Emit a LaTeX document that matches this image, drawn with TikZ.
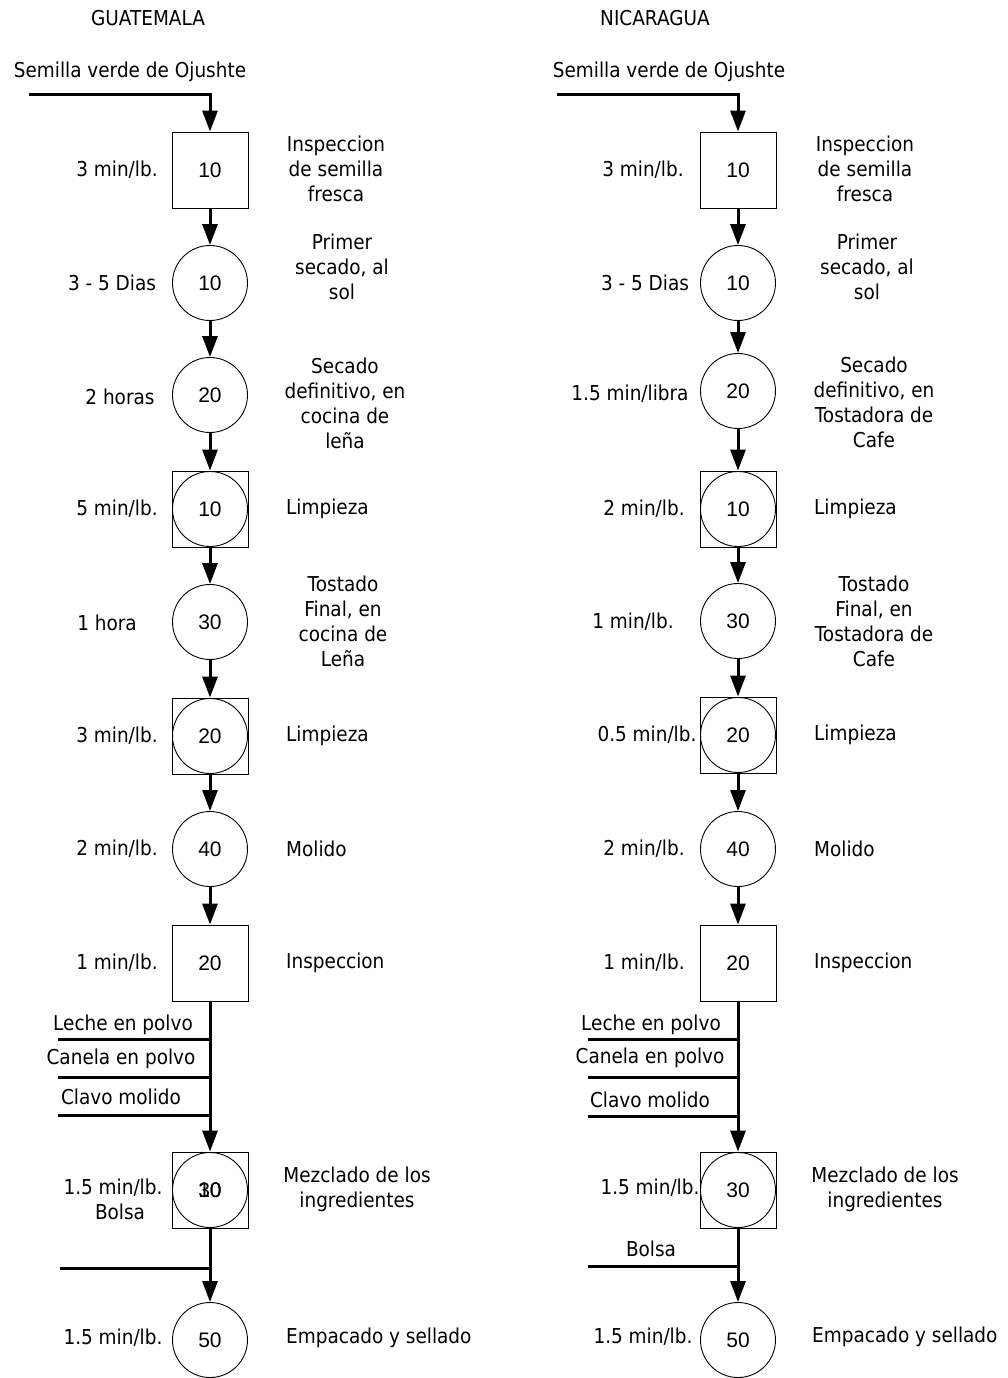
\documentclass[tikz,border=0pt]{standalone}
\usepackage{fontspec}
\setmainfont{DejaVu Sans}[FakeStretch=0.9]
\newfontfamily\numfont{Liberation Sans}
\usetikzlibrary{arrows.meta}
\begin{document}
\begin{tikzpicture}[x=1pt,y=-1pt,
  lbl/.style={font=\fontsize{20.5}{25}\selectfont, align=center, inner sep=0pt},
  lblw/.style={lbl, anchor=west},
  sq/.style={draw, line width=0.9pt, minimum width=76pt, minimum height=76pt, inner sep=0pt, font=\numfont\fontsize{21}{22}\selectfont},
  cir/.style={draw, circle, line width=0.9pt, minimum size=75pt, inner sep=0pt, font=\numfont\fontsize{21}{22}\selectfont},
  num/.style={inner sep=0pt, font=\numfont\fontsize{21}{22}\selectfont},
  flow/.style={line width=3pt, -{Triangle[length=21pt,width=15pt]}},
  feed/.style={line width=3pt},
]
\useasboundingbox (0,0) rectangle (1008,1378);

% ---------------- GUATEMALA ----------------
\node[lbl] (gt) at (148,18) {GUATEMALA};
\node[lbl] (gsem) at (130,72) {Semilla verde de Ojushte};
\coordinate (gin) at (29,95);

\node[sq]  (g1) at (210,170) {10};
\node[cir] (g2) at (210,283) {10};
\node[cir] (g3) at (210,395) {20};
\node[sq]  (g4) at (210,509) {};
\node[cir] (g4c) at (210,509) {10};
\node[cir] (g5) at (210,622) {30};
\node[sq]  (g6) at (210,736) {};
\node[cir] (g6c) at (210,736) {20};
\node[cir] (g7) at (210,849) {40};
\node[sq]  (g8) at (210,963) {20};
\node[sq]  (g9) at (210,1190) {};
\node[cir] (g9c) at (210,1190) {30};
\node[num] (g9x) at (210,1190) {10};
\node[cir] (g10) at (210,1340) {50};

\draw[flow] (gin) -| (g1);
\draw[flow] (g1) -- (g2);
\draw[flow] (g2) -- (g3);
\draw[flow] (g3) -- (g4);
\draw[flow] (g4) -- (g5);
\draw[flow] (g5) -- (g6);
\draw[flow] (g6) -- (g7);
\draw[flow] (g7) -- (g8);
\draw[flow] (g8) -- (g9);
\draw[flow] (g9) -- (g10);

\coordinate (gf1s) at (58,1039);  \coordinate (gf1e) at (210,1039);
\coordinate (gf2s) at (58,1077);  \coordinate (gf2e) at (210,1077);
\coordinate (gf3s) at (58,1115);  \coordinate (gf3e) at (210,1115);
\coordinate (gf4s) at (60,1268);  \coordinate (gf4e) at (210,1268);
\draw[feed] (gf1s) -- (gf1e);
\draw[feed] (gf2s) -- (gf2e);
\draw[feed] (gf3s) -- (gf3e);
\draw[feed] (gf4s) -- (gf4e);
\node[lbl] (gl1) at (123,1025) {Leche en polvo};
\node[lbl] (gl2) at (121,1059) {Canela en polvo};
\node[lbl] (gl3) at (121,1097) {Clavo molido};

% left time labels
\node[lbl] (gt1) at (117,170) {3 min/lb.};
\node[lbl] (gt2) at (112,283) {3 - 5 Dias};
\node[lbl] (gt3) at (120,397) {2 horas};
\node[lbl] (gt4) at (117,509) {5 min/lb.};
\node[lbl] (gt5) at (107,623) {1 hora};
\node[lbl] (gt6) at (117,736) {3 min/lb.};
\node[lbl] (gt7) at (117,849) {2 min/lb.};
\node[lbl] (gt8) at (117,963) {1 min/lb.};
\node[lbl] (gt9) at (113,1188) {1.5 min/lb.};
\node[lbl] (gt9b) at (120,1212) {Bolsa};
\node[lbl] (gt10) at (113,1338) {1.5 min/lb.};

% right descriptions
\node[lbl] (gd1) at (336,169) {Inspeccion\\de semilla\\fresca};
\node[lbl] (gd2) at (342,267) {Primer\\secado, al\\sol};
\node[lbl] (gd3) at (345,403) {Secado\\definitivo, en\\cocina de\\leña};
\node[lblw] (gd4) at (286,509) {Limpieza};
\node[lbl] (gd5) at (343,621) {Tostado\\Final, en\\cocina de\\Leña};
\node[lblw] (gd6) at (286,736) {Limpieza};
\node[lblw] (gd7) at (286,849) {Molido};
\node[lblw] (gd8) at (286,963) {Inspeccion};
\node[lbl] (gd9) at (357,1189) {Mezclado de los\\ingredientes};
\node[lblw] (gd10) at (286,1338) {Empacado y sellado};

% ---------------- NICARAGUA ----------------
\node[lbl] (nt) at (655,18) {NICARAGUA};
\node[lbl] (nsem) at (669,72) {Semilla verde de Ojushte};
\coordinate (nin) at (557,95);

\node[sq]  (n1) at (738,170) {10};
\node[cir] (n2) at (738,283) {10};
\node[cir] (n3) at (738,391) {20};
\node[sq]  (n4) at (738,509) {};
\node[cir] (n4c) at (738,509) {10};
\node[cir] (n5) at (738,621) {30};
\node[sq]  (n6) at (738,735) {};
\node[cir] (n6c) at (738,735) {20};
\node[cir] (n7) at (738,849) {40};
\node[sq]  (n8) at (738,963) {20};
\node[sq]  (n9) at (738,1190) {};
\node[cir] (n9c) at (738,1190) {30};
\node[cir] (n10) at (738,1340) {50};

\draw[flow] (nin) -| (n1);
\draw[flow] (n1) -- (n2);
\draw[flow] (n2) -- (n3);
\draw[flow] (n3) -- (n4);
\draw[flow] (n4) -- (n5);
\draw[flow] (n5) -- (n6);
\draw[flow] (n6) -- (n7);
\draw[flow] (n7) -- (n8);
\draw[flow] (n8) -- (n9);
\draw[flow] (n9) -- (n10);

\coordinate (nf1s) at (588,1039);  \coordinate (nf1e) at (738,1039);
\coordinate (nf2s) at (588,1077);  \coordinate (nf2e) at (738,1077);
\coordinate (nf3s) at (588,1116);  \coordinate (nf3e) at (738,1116);
\coordinate (nf4s) at (588,1266);  \coordinate (nf4e) at (738,1266);
\draw[feed] (nf1s) -- (nf1e);
\draw[feed] (nf2s) -- (nf2e);
\draw[feed] (nf3s) -- (nf3e);
\draw[feed] (nf4s) -- (nf4e);
\node[lbl] (nl1) at (651,1025) {Leche en polvo};
\node[lbl] (nl2) at (650,1058) {Canela en polvo};
\node[lbl] (nl3) at (650,1100) {Clavo molido};
\node[lbl] (nl4) at (651,1249) {Bolsa};

\node[lbl] (nt1) at (643,170) {3 min/lb.};
\node[lbl] (nt2) at (645,283) {3 - 5 Dias};
\node[lbl] (nt3) at (630,394) {1.5 min/libra};
\node[lbl] (nt4) at (644,509) {2 min/lb.};
\node[lbl] (nt5) at (633,622) {1 min/lb.};
\node[lbl] (nt6) at (647,735) {0.5 min/lb.};
\node[lbl] (nt7) at (644,849) {2 min/lb.};
\node[lbl] (nt8) at (644,963) {1 min/lb.};
\node[lbl] (nt9) at (650,1188) {1.5 min/lb.};
\node[lbl] (nt10) at (643,1337) {1.5 min/lb.};

\node[lbl] (nd1) at (865,169) {Inspeccion\\de semilla\\fresca};
\node[lbl] (nd2) at (867,267) {Primer\\secado, al\\sol};
\node[lbl] (nd3) at (874,402) {Secado\\definitivo, en\\Tostadora de\\Cafe};
\node[lblw] (nd4) at (814,509) {Limpieza};
\node[lbl] (nd5) at (874,621) {Tostado\\Final, en\\Tostadora de\\Cafe};
\node[lblw] (nd6) at (814,735) {Limpieza};
\node[lblw] (nd7) at (814,849) {Molido};
\node[lblw] (nd8) at (814,963) {Inspeccion};
\node[lbl] (nd9) at (885,1189) {Mezclado de los\\ingredientes};
\node[lblw] (nd10) at (812,1337) {Empacado y sellado};
\end{tikzpicture}
\end{document}
